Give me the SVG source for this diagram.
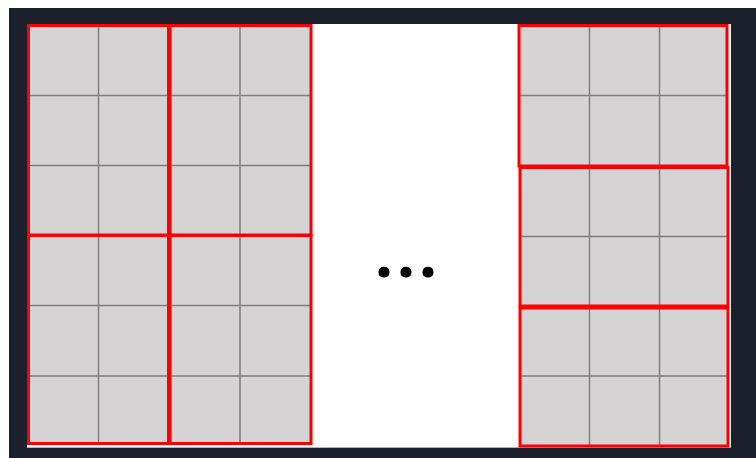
<svg xmlns="http://www.w3.org/2000/svg" width="756" height="458" viewBox="0 0 756 458">
<style>
.cell{fill:#d6d3d5}
.grid{stroke:#444;stroke-opacity:0.6;stroke-width:1.5;fill:none}
.blk{fill:none;stroke:#ff0000;stroke-width:3}
.dots{font-family:"Noto Sans",sans-serif;font-weight:bold;font-size:64px;fill:#000}
</style>
<rect x="0" y="0" width="756" height="458" fill="#ffffff"/>
<rect x="9" y="8" width="747" height="450" fill="#1b202c"/>
<rect x="27" y="24" width="704" height="424" fill="#ffffff"/>
<line x1="27" y1="447.5" x2="731" y2="447.5" stroke="#b5b5b5" stroke-width="1"/>

<g id="left-grid">
<rect class="cell" x="28" y="25" width="283" height="419"/>
<path class="grid" d="M98.5 25V444M169 25V444M240 25V444M28 95.5H311M28 165.5H311M28 235H311M28 305.5H311M28 376H311"/>
</g>
<g id="right-grid">
<rect class="cell" x="519" y="25" width="209" height="421"/>
<path class="grid" d="M589.5 25V446M659.5 25V446M519 95.5H728M519 166H728M519 236.5H728M519 306H728M519 376H728"/>
</g>

<g id="block-l1"><rect class="blk" x="28.5" y="25.5" width="140" height="209.5"/></g>
<g id="block-l2"><rect class="blk" x="170" y="25.5" width="141" height="209.5"/></g>
<g id="block-l3"><rect class="blk" x="28.5" y="235.5" width="140" height="208"/></g>
<g id="block-l4"><rect class="blk" x="170" y="235.5" width="141" height="208"/></g>
<g id="block-r1"><rect class="blk" x="519" y="25.5" width="208" height="140.5"/></g>
<g id="block-r2"><rect class="blk" x="520" y="167.5" width="208" height="138.5"/></g>
<g id="block-r3"><rect class="blk" x="520" y="308" width="208" height="138"/></g>

<g id="ellipsis"><text class="dots" x="408" y="277" text-anchor="middle" letter-spacing="4">...</text></g>
</svg>
